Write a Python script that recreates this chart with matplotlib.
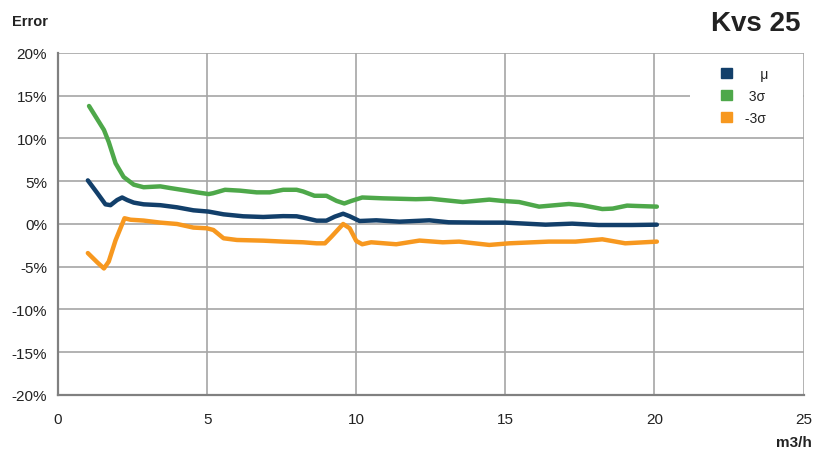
import matplotlib.pyplot as plt
from matplotlib.patches import Patch, Rectangle
from matplotlib.ticker import FuncFormatter

plt.rcParams['font.family'] = ['Liberation Sans', 'DejaVu Sans']

# flow rate (m3/h) and error (%)
mu_x = [1.0, 1.32, 1.59, 1.76, 1.98, 2.15, 2.32, 2.54, 2.87, 3.43, 3.99, 4.54, 5.05, 5.55,
        6.21, 6.88, 7.55, 8.0, 8.22, 8.67, 9.0, 9.28, 9.56, 9.78, 10.11, 10.67, 11.45,
        12.45, 13.1, 14.23, 15.0, 16.35, 17.24, 18.13, 19.24, 20.08]
mu_y = [5.1, 3.6, 2.3, 2.2, 2.8, 3.1, 2.8, 2.5, 2.3, 2.2, 1.95, 1.6, 1.45, 1.13,
        0.9, 0.82, 0.92, 0.9, 0.75, 0.39, 0.39, 0.86, 1.2, 0.9, 0.35, 0.43, 0.27,
        0.43, 0.2, 0.16, 0.16, -0.08, 0.04, -0.12, -0.12, -0.08]

p3_x = [1.04, 1.54, 1.7, 1.93, 2.2, 2.54, 2.87, 3.43, 3.77, 4.32, 4.66, 5.05, 5.2, 5.6,
        6.1, 6.66, 7.1, 7.55, 8.0, 8.22, 8.6, 9.0, 9.34, 9.6, 9.84, 10.2, 10.9, 12.0,
        12.5, 13.57, 14.46, 14.9, 15.46, 16.13, 17.13, 17.57, 18.25, 18.6, 19.08, 19.46, 20.08]
p3_y = [13.8, 11.0, 9.6, 7.1, 5.5, 4.6, 4.3, 4.4, 4.2, 3.9, 3.7, 3.5, 3.6, 4.0,
        3.9, 3.7, 3.7, 4.0, 4.0, 3.8, 3.3, 3.3, 2.7, 2.4, 2.7, 3.1, 3.0, 2.9,
        2.95, 2.57, 2.85, 2.7, 2.57, 2.03, 2.34, 2.2, 1.75, 1.8, 2.15, 2.1, 2.03]

m3_x = [1.0, 1.32, 1.54, 1.7, 1.93, 2.23, 2.43, 2.87, 3.43, 3.99, 4.54, 4.99, 5.21, 5.55,
        6.0, 6.88, 7.55, 8.22, 8.67, 8.95, 9.17, 9.56, 9.78, 10.0, 10.2, 10.5, 11.34,
        12.12, 12.9, 13.45, 14.46, 15.13, 16.46, 17.35, 18.25, 19.02, 20.08]
m3_y = [-3.4, -4.5, -5.2, -4.4, -1.9, 0.67, 0.5, 0.4, 0.16, 0.0, -0.42, -0.5, -0.7, -1.67,
        -1.87, -1.95, -2.06, -2.14, -2.26, -2.26, -1.48, 0.0, -0.5, -1.98, -2.37, -2.14, -2.37,
        -1.94, -2.14, -2.06, -2.45, -2.26, -2.06, -2.06, -1.79, -2.26, -2.06]

c_mu = '#123f6a'
c_p3 = '#4ea84a'
c_m3 = '#f7981f'

fig = plt.figure(figsize=(8.16, 4.56), dpi=100)
ax = fig.add_axes([0.0711, 0.1316, 0.9137, 0.75])

ax.plot(mu_x, mu_y, color=c_mu, lw=3.2, solid_capstyle='round', solid_joinstyle='round', zorder=3)
ax.plot(p3_x, p3_y, color=c_p3, lw=3.2, solid_capstyle='round', solid_joinstyle='round', zorder=3)
ax.plot(m3_x, m3_y, color=c_m3, lw=3.2, solid_capstyle='round', solid_joinstyle='round', zorder=3)

ax.set_xlim(0, 25)
ax.set_ylim(-20, 20)
ax.set_xticks(range(0, 26, 5))
ax.set_yticks(range(-20, 21, 5))
ax.yaxis.set_major_formatter(FuncFormatter(lambda v, p: '%d%%' % v))
ax.grid(True, color='#a6a6a6', lw=1.2)
ax.set_axisbelow(True)
ax.tick_params(length=0, labelsize=11, colors='#222222')
ax.tick_params(axis='x', pad=12)
ax.tick_params(axis='y', pad=8)
for s in ['top', 'right']:
    ax.spines[s].set_visible(False)
for s in ['left', 'bottom']:
    ax.spines[s].set_color('#808080')
    ax.spines[s].set_linewidth(1.6)

# white legend area hiding the grid behind it
ax.add_patch(Rectangle((21.2, 10.15), 3.77, 9.7, facecolor='white', edgecolor='none', zorder=0.6))

handles = [Patch(color=c_mu, label='     μ'), Patch(color=c_p3, label='  3σ'), Patch(color=c_m3, label=' -3σ')]
leg = ax.legend(handles=handles, loc='upper left', bbox_to_anchor=(0.882, 0.976),
                fontsize=10, frameon=False, handlelength=0.8, handleheight=0.8,
                borderpad=0.4, labelspacing=0.58, handletextpad=0.6, borderaxespad=0.0)
for t in leg.get_texts():
    t.set_color('#222222')

fig.text(0.015, 0.952, 'Error', fontsize=10.5, fontweight='bold', va='center', color='#222222')
fig.text(0.981, 0.948, 'Kvs 25', fontsize=20, fontweight='bold', va='center', ha='right', color='#222222')
fig.text(0.995, 0.029, 'm3/h', fontsize=11, fontweight='bold', va='center', ha='right', color='#222222')

fig.savefig('out.png', dpi=100)
